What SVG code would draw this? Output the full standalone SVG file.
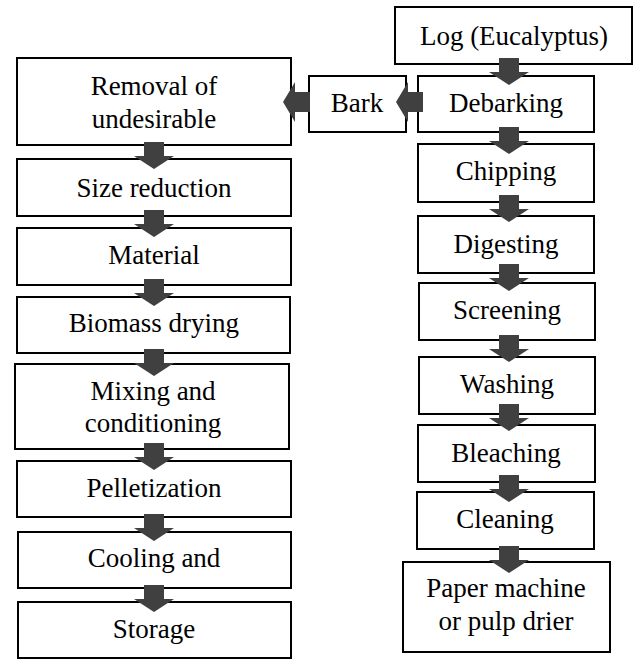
<svg xmlns="http://www.w3.org/2000/svg" width="633" height="659" viewBox="0 0 633 659">
<style>
.box{fill:#fff;stroke:#000;stroke-width:2}
.t{font-size:27px;fill:#000;text-anchor:middle}
.arr{fill:#404040;stroke:none}
</style>
<rect width="633" height="659" fill="#fff"/>
<g font-family="Liberation Serif, Times New Roman, DejaVu Serif, serif">
<g id="n-removal"><rect class="box" x="17" y="58" width="274" height="87"/><text class="t" x="154" y="95">Removal of</text><text class="t" x="154" y="128">undesirable</text></g>
<g id="n-size"><rect class="box" x="17" y="159" width="274" height="57"/><text class="t" x="154" y="197">Size reduction</text></g>
<g id="n-material"><rect class="box" x="17" y="228" width="274" height="57"/><text class="t" x="154" y="264">Material</text></g>
<g id="n-biomass"><rect class="box" x="17" y="297" width="273" height="56"/><text class="t" x="154" y="332">Biomass drying</text></g>
<g id="n-mixing"><rect class="box" x="15" y="364" width="274" height="85"/><text class="t" x="153" y="400">Mixing and</text><text class="t" x="153" y="432">conditioning</text></g>
<g id="n-pellet"><rect class="box" x="17" y="461" width="274" height="56"/><text class="t" x="154" y="497">Pelletization</text></g>
<g id="n-cooling"><rect class="box" x="18" y="532" width="273" height="56"/><text class="t" x="154" y="567">Cooling and</text></g>
<g id="n-storage"><rect class="box" x="18" y="602" width="273" height="56"/><text class="t" x="154" y="638">Storage</text></g>
<g id="n-log"><rect class="box" x="395" y="7" width="237" height="57"/><text class="t" x="514" y="45">Log (Eucalyptus)</text></g>
<g id="n-bark"><rect class="box" x="309" y="76" width="97" height="56"/><text class="t" x="357" y="112">Bark</text></g>
<g id="n-debarking"><rect class="box" x="418" y="76" width="176" height="56"/><text class="t" x="506" y="112">Debarking</text></g>
<g id="n-chipping"><rect class="box" x="418" y="144" width="176" height="58"/><text class="t" x="506" y="180">Chipping</text></g>
<g id="n-digesting"><rect class="box" x="418" y="216" width="176" height="57"/><text class="t" x="506" y="253">Digesting</text></g>
<g id="n-screening"><rect class="box" x="419" y="283" width="176" height="57"/><text class="t" x="507" y="319">Screening</text></g>
<g id="n-washing"><rect class="box" x="419" y="357" width="176" height="57"/><text class="t" x="507" y="393">Washing</text></g>
<g id="n-bleaching"><rect class="box" x="418" y="425" width="177" height="57"/><text class="t" x="506" y="462">Bleaching</text></g>
<g id="n-cleaning"><rect class="box" x="417" y="492" width="177" height="57"/><text class="t" x="505" y="528">Cleaning</text></g>
<g id="n-paper"><rect class="box" x="403" y="562" width="207" height="90"/><text class="t" x="506" y="597">Paper machine</text><text class="t" x="506" y="630">or pulp drier</text></g>
</g>
<g id="connectors" class="arr">
<path d="M144,142H164V156H174L154,169L134,156H144Z"/>
<path d="M144,210H164V224H174L154,237L134,224H144Z"/>
<path d="M144,279H164V293H174L154,306L134,293H144Z"/>
<path d="M144,349H164V363H174L154,376L134,363H144Z"/>
<path d="M144,443H164V457H174L154,470L134,457H144Z"/>
<path d="M144,514H164V528H174L154,541L134,528H144Z"/>
<path d="M144,585H164V599H174L154,612L134,599H144Z"/>
<path d="M499,58H519V72H529L509,85L489,72H499Z"/>
<path d="M499,127H519V141H529L509,154L489,141H499Z"/>
<path d="M499,195H519V209H529L509,222L489,209H499Z"/>
<path d="M499,264H519V278H529L509,291L489,278H499Z"/>
<path d="M499,335H519V349H529L509,362L489,349H499Z"/>
<path d="M499,404H519V418H529L509,431L489,418H499Z"/>
<path d="M499,475H519V489H529L509,502L489,489H499Z"/>
<path d="M499,546H519V560H529L509,573L489,560H499Z"/>
<path d="M423,92V112H408V122L396,102L408,82V92Z"/>
<path d="M310,92V112H295V122L283,102L295,82V92Z"/>
</g>
</svg>
